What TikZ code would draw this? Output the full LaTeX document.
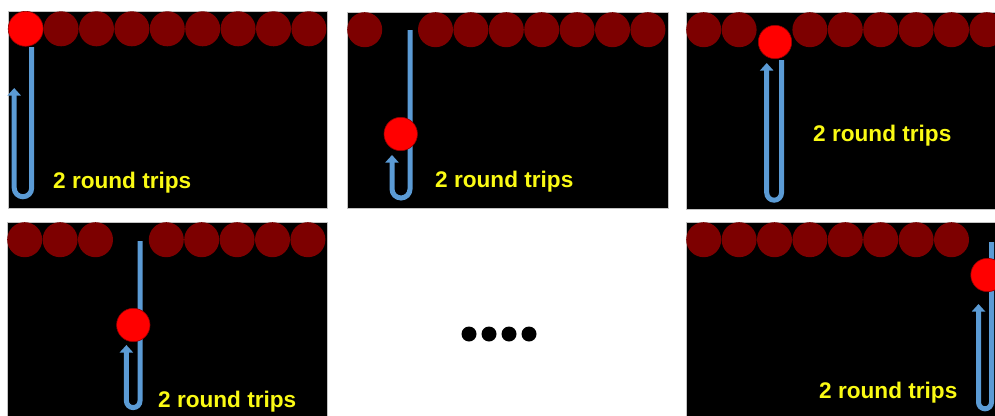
\documentclass[tikz,border=0pt]{standalone}
\usepackage{fontspec}
\setmainfont{Liberation Sans}
\usetikzlibrary{arrows.meta}
\definecolor{tubeblue}{RGB}{91,155,213}
\definecolor{darkball}{RGB}{125,0,0}
\definecolor{hotball}{RGB}{255,0,0}
\definecolor{hotedge}{RGB}{150,0,0}
\definecolor{tripyellow}{RGB}{250,250,20}
\definecolor{panelline}{RGB}{195,195,195}
\tikzset{
  panelbox/.style={fill=black, draw=panelline, line width=0.6pt},
  rowball/.style={fill=darkball},
  hot/.style={fill=hotball, draw=hotedge, line width=0.6pt},
  tube/.style={draw=tubeblue, line width=5pt, -{Triangle[width=13pt,length=7.5pt]}},
  tripstext/.style={anchor=base west, inner sep=0pt, text=tripyellow,
    font=\fontsize{22.6}{27}\selectfont\bfseries},
  ellipsisdot/.style={fill=black}
}
\begin{document}
\begin{tikzpicture}[x=1pt,y=-1pt]
\useasboundingbox (0,0) rectangle (995,415);
\clip (0,0) rectangle (995,415);

% ---------- Panel 1 ----------
\draw[panelbox] (8,11) rectangle (327,208);
\foreach \i in {1,...,8} \fill[rowball] (8+17.7+35.4*\i,28.8) circle[radius=17.5];
\draw[tube] (31.7,47) -- (31.7,188) arc[start angle=0,end angle=180,radius=8.75] -- (14.2,88);
\filldraw[hot] (25.7,28.8) circle[radius=17.5];
\node[tripstext] (t1) at (53,188) {2 round trips};

% ---------- Panel 2 ----------
\draw[panelbox] (347,12) rectangle (668,208);
\foreach \i in {0,2,3,4,5,6,7,8} \fill[rowball] (347+17.7+35.4*\i,29.7) circle[radius=17.5];
\draw[tube] (410,30) -- (410,189) arc[start angle=0,end angle=180,radius=9] -- (392,155);
\filldraw[hot] (400.7,134) circle[radius=16.7];
\node[tripstext] (t2) at (435,187) {2 round trips};

% ---------- Panel 3 ----------
\draw[panelbox] (686,12) rectangle (1000,209);
\foreach \i in {0,1,3,4,5,6,7,8} \fill[rowball] (686+17.7+35.4*\i,29.7) circle[radius=17.5];
\draw[tube] (781.5,60) -- (781.5,192.8) arc[start angle=0,end angle=180,radius=7.4] -- (766.7,63);
\filldraw[hot] (775,42) circle[radius=16.7];
\node[tripstext] (t3) at (813,141) {2 round trips};

% ---------- Panel 4 ----------
\draw[panelbox] (7,222) rectangle (327,420);
\foreach \i in {0,1,2,4,5,6,7,8} \fill[rowball] (7+17.7+35.4*\i,239.7) circle[radius=17.5];
\draw[tube] (140,241) -- (140,400.8) arc[start angle=0,end angle=180,radius=6.8] -- (126.4,345);
\filldraw[hot] (133.3,325) circle[radius=16.7];
\node[tripstext] (t4) at (158,407) {2 round trips};

% ---------- Ellipsis ----------
\foreach \x in {469,489,509,529} \fill[ellipsisdot] (\x,334) circle[radius=7.5];

% ---------- Panel 5 ----------
\draw[panelbox] (686,222) rectangle (1000,420);
\foreach \i in {0,...,7} \fill[rowball] (686+17.7+35.4*\i,239.7) circle[radius=17.5];
\draw[tube] (991.5,242) -- (991.5,402.3) arc[start angle=0,end angle=180,radius=6.5] -- (978.5,304);
\filldraw[hot] (987.5,275) circle[radius=16.7];
\node[tripstext] (t5) at (819,398) {2 round trips};
\end{tikzpicture}
\end{document}
